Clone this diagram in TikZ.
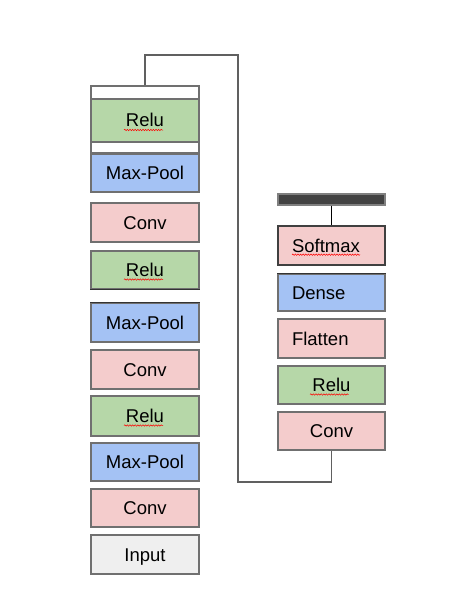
\documentclass[tikz,border=0pt]{standalone}
\usepackage{fontspec}
\setmainfont{Liberation Sans}
\usetikzlibrary{decorations.pathmorphing}
\definecolor{cgreen}{HTML}{B6D7A8}
\definecolor{cblue}{HTML}{A4C2F4}
\definecolor{cpink}{HTML}{F4CCCC}
\definecolor{cgrey}{HTML}{EFEFEF}
\definecolor{cbar}{HTML}{434343}
\definecolor{cedge}{HTML}{707070}
\definecolor{cline}{HTML}{606060}
\begin{document}
\begin{tikzpicture}[x=1pt,y=-1pt,
  layer/.style={draw=cedge, line width=1.3pt, inner sep=0pt, font=\fontsize{18.5}{21}\selectfont,
    text height=13pt, text depth=0pt},
  lcol/.style={layer, minimum width=108pt},
  rcol/.style={layer, minimum width=107pt},
  lefttext/.style={inner xsep=14pt, text width=79pt, align=left},
  squig/.style={draw=red, line width=0.5pt, decorate,
    decoration={snake, amplitude=0.7pt, segment length=2.6pt}},
  conn/.style={draw=cline, line width=1.3pt},
  darkedge/.style={draw=black!80, line width=1.3pt}
]
\useasboundingbox (0,0) rectangle (471,615);
% left column
\node[lcol, fill=white, minimum height=67pt] (outer) at (145,119.5) {};
\node[lcol, fill=cgreen, minimum height=43pt] (relu1) at (145,120.5) {Relu};
\node[lcol, fill=cblue, minimum height=38pt] (mp1) at (145,173) {Max-Pool};
\node[lcol, fill=cpink, minimum height=39pt] (conv1) at (145,222.5) {Conv};
\node[lcol, fill=cgreen, minimum height=38pt] (relu2) at (145,270) {Relu};
\node[lcol, fill=cblue, minimum height=39pt] (mp2) at (145,322.5) {Max-Pool};
\node[lcol, fill=cpink, minimum height=39pt] (conv2) at (145,369.5) {Conv};
\node[lcol, fill=cgreen, minimum height=40pt] (relu3) at (145,416) {Relu};
\node[lcol, fill=cblue, minimum height=38pt] (mp3) at (145,462) {Max-Pool};
\node[lcol, fill=cpink, minimum height=38pt] (conv3) at (145,508) {Conv};
\node[lcol, fill=cgrey, minimum height=39pt] (input) at (145,554.5) {Input};
% right column
\node[rcol, fill=cbar, draw=gray, minimum height=11pt, text height=0pt] (bar) at (331.5,199.5) {};
\node[rcol, lefttext, fill=cpink, draw=black!75, minimum height=39pt] (softmax) at (331.5,245.5) {Softmax};
\node[rcol, lefttext, fill=cblue, minimum height=37pt] (dense) at (331.5,292.5) {Dense};
\node[rcol, lefttext, fill=cpink, minimum height=39pt] (flatten) at (331.5,338.5) {Flatten};
\node[rcol, fill=cgreen, minimum height=38pt] (rrelu) at (331.5,385) {Relu};
\node[rcol, fill=cpink, minimum height=38pt] (rconv) at (331.5,431) {Conv};
% darker edges
\draw[darkedge] (dense.north west) -- (dense.north east);
\draw[darkedge] (relu2.south west) -- (relu2.south east);
\draw[darkedge] (mp2.north west) -- (mp2.north east);
% spell-check underlines
\draw[squig] ([xshift=-21pt,yshift=-9.5pt]relu1.center) -- ([xshift=18pt,yshift=-9.5pt]relu1.center);
\draw[squig] ([xshift=-21pt,yshift=-9.5pt]relu2.center) -- ([xshift=18pt,yshift=-9.5pt]relu2.center);
\draw[squig] ([xshift=-21pt,yshift=-9.5pt]relu3.center) -- ([xshift=18pt,yshift=-9.5pt]relu3.center);
\draw[squig] ([xshift=-21.5pt,yshift=-9.5pt]rrelu.center) -- ([xshift=17pt,yshift=-9.5pt]rrelu.center);
\draw[squig] ([xshift=-39.5pt,yshift=-9.2pt]softmax.center) -- ([xshift=28.5pt,yshift=-9.2pt]softmax.center);
% connectors
\coordinate (turn1) at (238,55);
\coordinate (turn2) at (238,482);
\draw[conn] (outer.north) |- (turn1) |- (turn2) -| (rconv.south);
\draw[draw=black, line width=1.1pt] (bar.south) -- (softmax.north);
\end{tikzpicture}
\end{document}
